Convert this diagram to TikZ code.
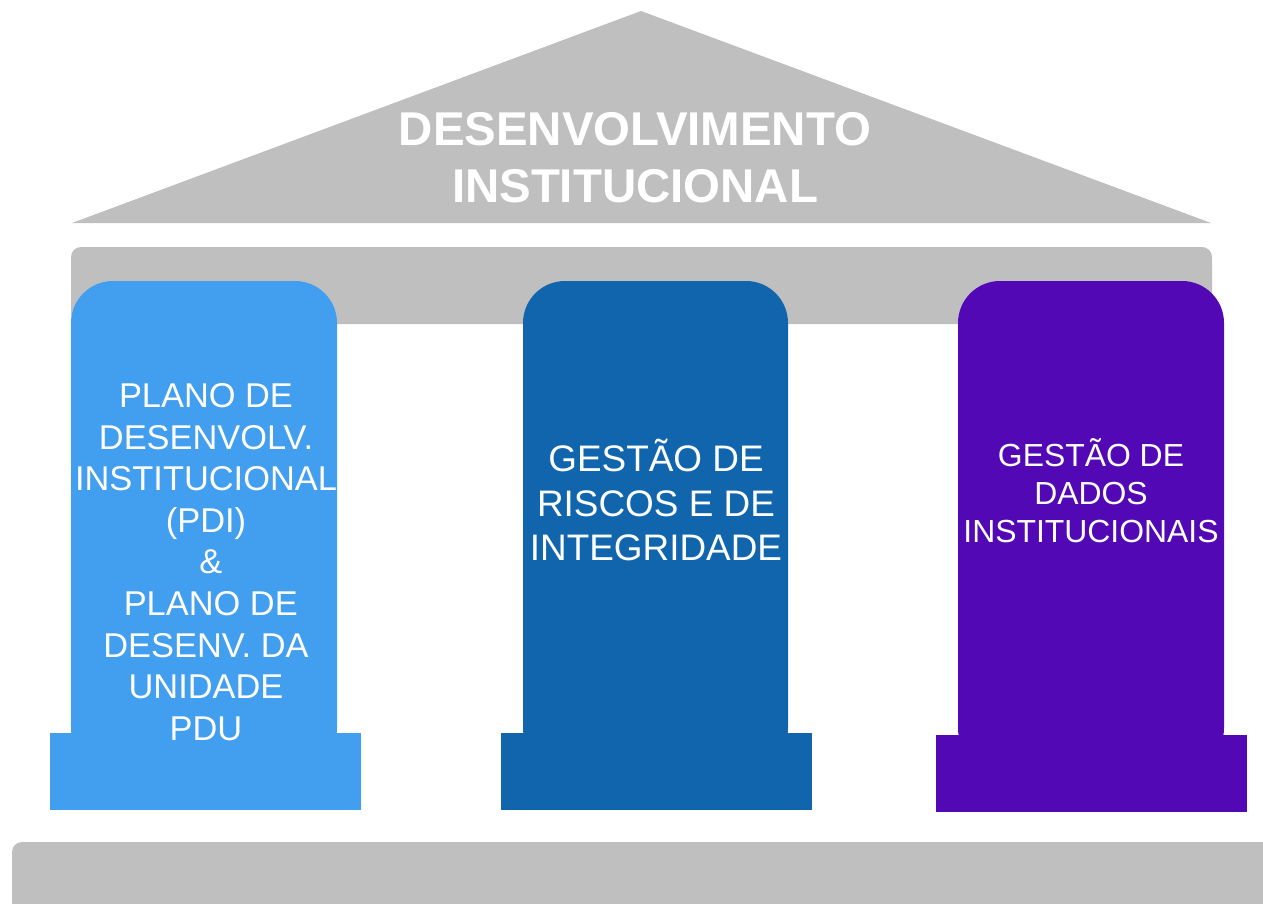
\documentclass[tikz,border=0pt]{standalone}
\usepackage{fontspec}
\setmainfont{Liberation Sans}
\definecolor{telhado}{RGB}{191,191,191}
\definecolor{pilarA}{RGB}{66,158,238}
\definecolor{pilarB}{RGB}{16,101,173}
\definecolor{pilarC}{RGB}{82,8,180}
\tikzset{
  rotulo/.style={white,align=center,inner sep=0pt},
  pilar/.style={rounded corners=42pt}
}
\begin{document}
\begin{tikzpicture}[x=1pt,y=-1pt]
\useasboundingbox (0,0) rectangle (1263,904);
\clip (0,0) rectangle (1263,904);
% telhado e viga
\fill[telhado] (72,223)--(641,11)--(1211,223)--cycle;
\fill[telhado,rounded corners=10pt] (71,247) rectangle (1212,324);
\node[rotulo,font=\fontsize{47.4}{57}\selectfont\bfseries] (titulo) at (635,158) {DESENVOLVIMENTO\\INSTITUCIONAL};
% pilares
\fill[pilarA,pilar] (71,281) rectangle (337,770);
\fill[pilarA] (50,733) rectangle (361,810);
\fill[pilarB,pilar] (523,281) rectangle (788,770);
\fill[pilarB] (501,733) rectangle (812,810);
\fill[pilarC,pilar] (958,281) rectangle (1224,770);
\fill[pilarC] (936,735) rectangle (1247,812);
\node[rotulo,font=\fontsize{34.4}{41.6}\selectfont] (pdi) at (206,562) {PLANO DE\\DESENVOLV.\\INSTITUCIONAL\\(PDI)\\\ \&\\\ PLANO DE\\DESENV. DA\\UNIDADE\\PDU};
\node[rotulo,font=\fontsize{36.9}{44.5}\selectfont] (riscos) at (656,500) {GESTÃO DE\\RISCOS E DE\\INTEGRIDADE};
\node[rotulo,font=\fontsize{31.9}{38}\selectfont] (dados) at (1091,491) {GESTÃO DE\\DADOS\\INSTITUCIONAIS};
% base
\fill[telhado,rounded corners=10pt] (12,842) rectangle (1300,940);
\end{tikzpicture}
\end{document}
